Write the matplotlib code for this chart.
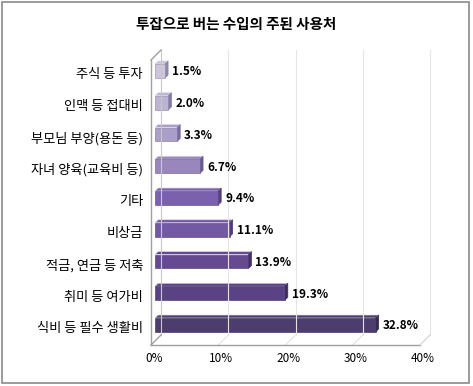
import matplotlib.pyplot as plt
import matplotlib.transforms as mtransforms
from matplotlib.patches import Polygon, Rectangle

plt.rcParams['font.family'] = ['Noto Sans CJK KR', 'DejaVu Sans']

# 데이터
categories = ['주식 등 투자', '인맥 등 접대비', '부모님 부양(용돈 등)', '자녀 양육(교육비 등)',
              '기타', '비상금', '적금, 연금 등 저축', '취미 등 여가비', '식비 등 필수 생활비']
values = [1.5, 2.0, 3.3, 6.7, 9.4, 11.1, 13.9, 19.3, 32.8]
xticks = [0, 10, 20, 30, 40]
front_colors = ['#cbc5de', '#bcb4d3', '#aa9fc9', '#9886bd', '#7b60ad',
                '#7358a3', '#654a91', '#5a4384', '#4d3c6e']
side_colors = ['#8f87aa', '#847ba3', '#776c9b', '#67588f', '#54407e',
               '#4c3a75', '#433067', '#3b2c5c', '#33284a']

W, H = 473, 386
fig = plt.figure(figsize=(W / 100, H / 100), dpi=100)
fig.patches.append(Rectangle((2 / W, 3 / H), 467 / W, 381 / H, transform=fig.transFigure,
                             fill=False, edgecolor='#8a8a8a', linewidth=1.2))

ax = fig.add_axes([151 / W, (H - 345) / H, 269 / W, 285 / H])
ax.set_xlim(0, 40)
ax.set_ylim(8.504, -0.472)
ax.axis('off')

y0, y1 = ax.get_ylim()
back = mtransforms.offset_copy(ax.transData, fig, x=10, y=10, units='dots')
mid = mtransforms.offset_copy(ax.transData, fig, x=4, y=4, units='dots')
ident = mtransforms.IdentityTransform()

wall = '#a0a0a0'
grid = '#e4e4e4'
# 뒷면 격자
for t in xticks[1:]:
    ax.plot([t, t], [y0, y1], color=grid, lw=0.8, transform=back, clip_on=False)
# 바닥 격자 (앞에서 뒤로)
disp = ax.transData
for t in xticks[1:]:
    a = disp.transform((t, y0))
    b = back.transform((t, y0))
    ax.plot([a[0], b[0]], [a[1], b[1]], color=grid, lw=0.8, transform=ident, clip_on=False)

# 왼쪽 벽
ax.plot([0, 0], [y0, y1], color=wall, lw=1, clip_on=False)
ax.plot([0, 0], [y0, y1], color='#c8c8c8', lw=0.8, transform=back, clip_on=False)
for yy in (y0, y1):
    a = disp.transform((0, yy))
    b = back.transform((0, yy))
    ax.plot([a[0], b[0]], [a[1], b[1]], color=wall, lw=1, transform=ident, clip_on=False)
# 바닥 앞선
ax.plot([0, 40], [y0, y0], color=wall, lw=1, clip_on=False)
a = disp.transform((40, y0))
b = back.transform((40, y0))
ax.plot([a[0], b[0]], [a[1], b[1]], color='#d8d8d8', lw=0.8, transform=ident, clip_on=False)

# 막대 (3D 효과)
h = 0.44
d = 3
for i, (v, fc, sc) in enumerate(zip(values, front_colors, side_colors)):
    tl = mid.transform((0, i - h / 2))
    tr = mid.transform((v, i - h / 2))
    br = mid.transform((v, i + h / 2))
    top = Polygon([tl, tr, (tr[0] + d, tr[1] + d), (tl[0] + d, tl[1] + d)],
                  closed=True, facecolor=fc, edgecolor='#ddd8ea', lw=0.5,
                  transform=ident, clip_on=False)
    side = Polygon([tr, br, (br[0] + d, br[1] + d), (tr[0] + d, tr[1] + d)],
                   closed=True, facecolor=sc, edgecolor=sc, lw=0.5,
                   transform=ident, clip_on=False)
    ax.add_patch(top)
    ax.add_patch(side)
    ax.barh(i, v, height=h, color=fc, edgecolor=sc, linewidth=0.4,
            transform=mid, clip_on=False)
    ax.text(v, i, f'{v:.1f}%', transform=mtransforms.offset_copy(
        ax.transData, fig, x=11, y=3, units='dots'),
        ha='left', va='center', fontsize=8.5, fontweight='bold', color='black')

# 항목 이름
for i, c in enumerate(categories):
    ax.text(0, i, c, transform=mtransforms.offset_copy(ax.transData, fig, x=-8, y=0, units='dots'),
            ha='right', va='center', fontsize=9.5, color='black')

# x축 눈금 글자
for t in xticks:
    ax.text(t, y0, f'{t}%', transform=mtransforms.offset_copy(ax.transData, fig, x=3, y=-14, units='dots'),
            ha='center', va='center', fontsize=8.5, color='black')

fig.text(236 / W, 1 - 24 / H, '투잡으로 버는 수입의 주된 사용처', ha='center', va='center',
         fontsize=10.5, fontweight='bold')

fig.savefig('out.png', dpi=100)
